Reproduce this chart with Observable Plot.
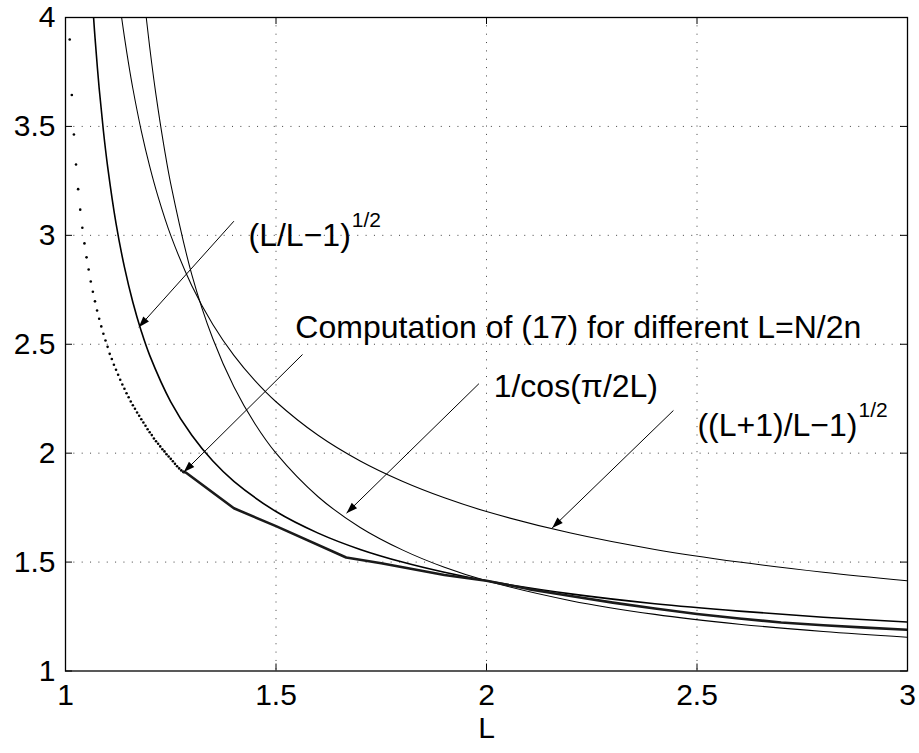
<!DOCTYPE html>
<html><head><meta charset="utf-8">
<script src="https://cdn.jsdelivr.net/npm/d3@7"></script>
<script src="https://cdn.jsdelivr.net/npm/@observablehq/plot@0.6"></script>
<style>body{margin:0;background:#fff}</style>
</head><body><div id="chart"></div>
<script>
// ---- axis ticks ----
const xTicks = [1, 1.5, 2, 2.5, 3];
const yTicks = [1, 1.5, 2, 2.5, 3, 3.5, 4];

// ---- (L/(L-1))^(1/2) ----
const fL = [1.0667,1.07,1.08,1.09,1.10,1.12,1.14,1.16,1.18,1.20,1.25,1.30,1.35,1.40,1.50,1.60,1.70,1.80,1.90,2.0,2.2,2.4,2.6,2.8,3.0];
const fV = [4.0,3.910,3.674,3.480,3.317,3.055,2.854,2.693,2.560,2.449,2.236,2.082,1.964,1.871,1.732,1.633,1.558,1.5,1.453,1.414,1.354,1.309,1.275,1.247,1.225];

// ---- ((L+1)/(L-1))^(1/2) ----
const gL = [1.1333,1.14,1.15,1.16,1.18,1.20,1.22,1.25,1.30,1.35,1.40,1.45,1.50,1.60,1.70,1.80,1.90,2.0,2.2,2.4,2.6,2.8,3.0];
const gV = [4.0,3.910,3.786,3.674,3.480,3.317,3.177,3.0,2.769,2.591,2.449,2.333,2.236,2.082,1.964,1.871,1.795,1.732,1.633,1.558,1.5,1.453,1.414];

// ---- 1/cos(pi/2L) ----
const hL = [1.1918,1.20,1.21,1.22,1.235,1.25,1.30,1.35,1.40,1.45,1.50,1.60,1.70,1.80,1.90,2.0,2.2,2.4,2.6,2.8,3.0];
const hV = [4.0,3.864,3.713,3.578,3.396,3.236,2.820,2.525,2.305,2.135,2.0,1.800,1.659,1.556,1.476,1.414,1.323,1.260,1.215,1.181,1.1547];

// ---- Computation of (17): sparse dots ----
const cDotL = [1.010,1.015,1.020,1.025,1.030,1.035,1.040,1.045,1.050,1.055,1.060,1.065,1.070,1.075,1.080,1.085,1.090,1.095,1.100,1.105,1.110,1.115,1.120,1.125,1.130,1.135,1.140,1.145,1.150,1.155,1.160,1.165,1.170,1.175,1.180,1.185,1.190,1.195,1.200,1.205,1.210,1.215,1.220,1.225,1.230,1.235,1.240,1.245,1.250,1.255,1.260,1.265,1.270,1.275,1.280];
const cDotV = [3.899,3.644,3.463,3.325,3.212,3.118,3.035,2.963,2.899,2.843,2.788,2.741,2.697,2.655,2.617,2.582,2.548,2.517,2.488,2.456,2.432,2.406,2.383,2.360,2.337,2.315,2.296,2.275,2.257,2.237,2.220,2.204,2.187,2.172,2.156,2.141,2.126,2.110,2.096,2.083,2.067,2.055,2.043,2.031,2.018,2.008,1.995,1.985,1.974,1.963,1.951,1.940,1.930,1.921,1.914];
// ---- Computation of (17): dense part ----
const cLineL = [1.280,1.2857,1.40,1.50,1.6667,1.75,1.833,1.90,2.0,2.1,2.2,2.3,2.4,2.5,2.6,2.7,2.8,2.9,3.0];
const cLineV = [1.914,1.911,1.747,1.665,1.521,1.495,1.465,1.441,1.414,1.376,1.344,1.314,1.287,1.262,1.241,1.223,1.210,1.199,1.189];

// ---- annotations ----
const arrowTailL = [1.400, 1.563, 1.982, 2.444];
const arrowTailV = [3.065, 2.453, 2.319, 2.196];
const arrowHeadL = [1.174, 1.281, 1.6675, 2.156];
const arrowHeadV = [2.578, 1.913, 1.7245, 1.657];
const labelText = ["(L/L\u22121)", "Computation of (17) for different L=N/2n", "1/cos(\u03c0/2L)", "((L+1)/L\u22121)"];
const labelL = [1.4347, 1.546, 2.017, 2.501];
const labelV = [3.000, 2.577, 2.306, 2.127];
const supText = ["1/2", null, null, "1/2"];
const xLabel = "L";

const FONT = "'Liberation Sans', Arial, Helvetica, sans-serif";
const LABEL_SIZE = 32, SUP_SIZE = 21;
const ctx = document.createElement("canvas").getContext("2d");
ctx.font = `${LABEL_SIZE}px ${FONT}`;

const zip = (a, b) => a.map((x, i) => ({L: x, v: b[i]}));
const fData = zip(fL, fV), gData = zip(gL, gV), hData = zip(hL, hV);
const cDots = zip(cDotL, cDotV), cLine = zip(cLineL, cLineV);
const arrows = arrowTailL.map((d, i) => ({x1: d, y1: arrowTailV[i], x2: arrowHeadL[i], y2: arrowHeadV[i]}));
const labels = labelText.map((t, i) => ({t, L: labelL[i], v: labelV[i], w: ctx.measureText(t).width, s: supText[i]}));
const sups = labels.filter(d => d.s);

const W = 919, H = 753, mL = 65, mR = 12, mT = 17, mB = 82.5;
const fh = H - mT - mB, fw = W - mL - mR, tk = 7;
const grid = {stroke: "#000", strokeOpacity: 0.75, strokeWidth: 1, strokeDasharray: "1,7.35"};
const fmt = d => String(d);

const svg = Plot.plot({
  width: W, height: H,
  marginLeft: mL, marginRight: mR, marginTop: mT, marginBottom: mB,
  style: {fontFamily: FONT, fontSize: "30px", color: "#000", background: "#fff"},
  x: {domain: [1, 3], label: null},
  y: {domain: [1, 4], label: null},
  marks: [
    Plot.gridX(xTicks.slice(1, -1), grid),
    Plot.gridY(yTicks.slice(1, -1), grid),
    Plot.ruleX(xTicks, {x: d => d, insetTop: fh - tk, stroke: "#000"}),
    Plot.ruleX(xTicks, {x: d => d, insetBottom: fh - tk, stroke: "#000"}),
    Plot.ruleY(yTicks, {y: d => d, insetRight: fw - tk, stroke: "#000"}),
    Plot.ruleY(yTicks, {y: d => d, insetLeft: fw - tk, stroke: "#000"}),
    Plot.axisX(xTicks, {tickSize: 0, tickPadding: 13, fontSize: 30, tickFormat: fmt, label: null}),
    Plot.axisY(yTicks, {tickSize: 0, tickPadding: 10, fontSize: 30, tickFormat: fmt, label: null}),
    Plot.text([xLabel], {frameAnchor: "bottom", dy: 67, fontSize: 30, fill: "#000"}),
    Plot.line(fData, {x: "L", y: "v", stroke: "#000", strokeWidth: 1.6, curve: "catmull-rom", clip: true}),
    Plot.line(gData, {x: "L", y: "v", stroke: "#000", strokeWidth: 1.05, curve: "catmull-rom", clip: true}),
    Plot.line(hData, {x: "L", y: "v", stroke: "#000", strokeWidth: 1.05, curve: "catmull-rom", clip: true}),
    Plot.dot(cDots, {x: "L", y: "v", r: 1.3, fill: "#000", stroke: null, clip: true}),
    Plot.line(cLine, {x: "L", y: "v", stroke: "#1a1a1a", strokeWidth: 2.6, curve: "linear", clip: true}),
    Plot.link(arrows, {x1: "x1", y1: "y1", x2: "x2", y2: "y2", stroke: "#000", strokeWidth: 1}),
    Plot.text(labels, {x: "L", y: "v", text: "t", textAnchor: "start", lineAnchor: "middle", fontSize: LABEL_SIZE, fill: "#000"}),
    ...sups.map(d => Plot.text([d], {x: "L", y: "v", text: "s", textAnchor: "start", lineAnchor: "middle", dx: d.w + 1, dy: -15, fontSize: SUP_SIZE, fill: "#000"})),
    Plot.frame({stroke: "#000", strokeWidth: 1.3})
  ]
});

const s = d3.select(svg);
const defs = s.insert("defs", ":first-child");
defs.append("marker").attr("id", "ahead")
  .attr("viewBox", "-12 -5 13 10").attr("refX", 0).attr("refY", 0)
  .attr("markerWidth", 13).attr("markerHeight", 10)
  .attr("markerUnits", "userSpaceOnUse").attr("orient", "auto")
  .append("path").attr("d", "M-11,-3.8L0,0L-11,3.8Z").attr("fill", "#000");
s.selectAll('g[aria-label="link"] path').attr("marker-end", "url(#ahead)");

document.getElementById("chart").appendChild(svg);
</script>
</body></html>
